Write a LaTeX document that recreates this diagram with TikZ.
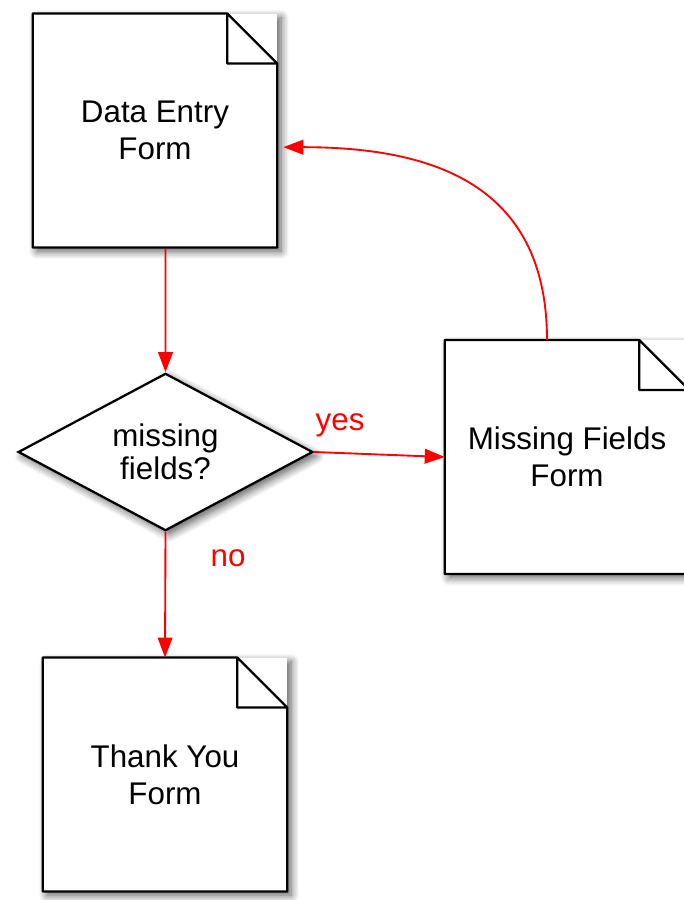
\documentclass[tikz,border=0pt]{standalone}
\usepackage{fontspec}
\setmainfont{Liberation Sans}
\usetikzlibrary{shapes.geometric,arrows.meta,shadows.blur}

\tikzset{
  shade/.style={blur shadow={shadow xshift=3pt, shadow yshift=-3pt,
      shadow blur radius=6pt, shadow blur steps=8, shadow opacity=65}},
  form/.style={rectangle, fill=white, inner sep=0pt, align=center,
    minimum width=183pt, minimum height=175pt, shade,
    font=\fontsize{23.5pt}{27.75pt}\selectfont},
  formline/.style={line width=1.7pt, line join=round},
  decision/.style={diamond, aspect=1.88, draw, line width=1.7pt, fill=white,
    inner sep=0pt, minimum width=221pt, minimum height=118pt, align=center,
    shade, font=\fontsize{23.5pt}{24.75pt}\selectfont},
  flow/.style={draw=red, line width=1.4pt, -{Triangle[length=15pt,width=11pt]}},
  answer/.style={text=red, font=\fontsize{23.5pt}{27pt}\selectfont}
}

\begin{document}
\begin{tikzpicture}[x=0.75pt, y=-0.75pt]
    \useasboundingbox (0,0) rectangle (683,900);
    \node[form] (entry) at (155,130.5) {Data Entry\\Form};
    \node[decision] (check) at (165.5,452) {missing\\fields?};
    \node[form] (missing) at (567,457) {Missing Fields\\Form};
    \node[form] (thanks) at (165,774.5) {Thank You\\Form};
    \foreach \f in {entry,missing,thanks}
    \draw[formline] (\f.north west) -- ([xshift=-37.5pt]\f.north east)
    -- ([yshift=-37.5pt]\f.north east) -- (\f.south east)
    -- (\f.south west) -- cycle
    ([xshift=-37.5pt]\f.north east) |- ([yshift=-37.5pt]\f.north east);
    \draw[flow] ([xshift=7.9pt, yshift=-1pt]entry.south) -- (check.north);
    \draw[flow] (check.east) -- (missing.west)
    node[answer, pos=0.2, yshift=21pt] {yes};
    \draw[flow] (check.south) -- (thanks.north)
    node[answer, pos=0.21, xshift=47pt, fill=white] {no};
    \draw[flow] ([xshift=-15pt]missing.north) to[out=90, in=0, looseness=1.2]
    ([xshift=4.5pt, yshift=-12.5pt]entry.east);
  \end{tikzpicture}
\end{document}
